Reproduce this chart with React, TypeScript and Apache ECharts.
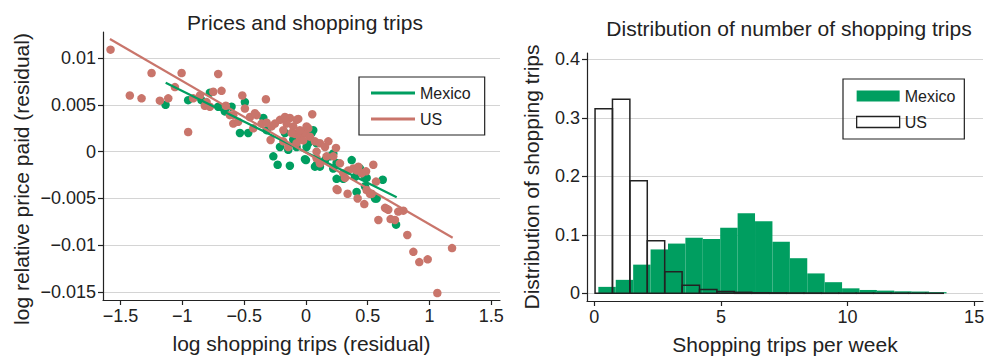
import React, { useEffect, useRef } from "react";
import * as echarts from "echarts";

// ---------- Data ----------
const usPoints: number[][] = [
  [-1.581, 0.0109], [-1.249, 0.0084], [-1.006, 0.0084], [-0.71, 0.0083], [-1.425, 0.006],
  [-1.33, 0.0057], [-1.182, 0.00545], [-1.114, 0.0057], [-1.06, 0.0069], [-0.953, 0.0021],
  [-0.912, 0.0057], [-0.858, 0.006], [-0.818, 0.0049], [-0.777, 0.0048], [-0.75, 0.0064],
  [-0.683, 0.0065], [-0.648, 0.0049], [-0.615, 0.0039], [-0.588, 0.003], [-0.548, 0.0032],
  [-0.515, 0.006], [-0.494, 0.0046], [-0.453, 0.0037], [-0.399, 0.0039], [-0.426, 0.0025],
  [-0.359, 0.003], [-0.324, 0.0056], [-0.318, 0.0031], [-0.278, 0.0027], [-0.286, 0.00125],
  [-0.251, 0.003], [-0.21, 0.0034], [-0.17, 0.0036], [-0.13, 0.0036], [-0.156, 0.003],
  [-0.103, 0.0027], [-0.062, 0.0035], [-0.089, 0.0019], [-0.049, 0.0015], [-0.008, 0.002],
  [0.019, 0.0025], [0.051, 0.004], [0.032, 0.0016], [0.073, 0.0011], [0.113, 0.0009],
  [0.181, 0.0011], [0.154, 0.0005], [0.243, 0.0004], [0.221, -0.0005], [0.113, -0.00125],
  [0.167, -0.0005], [0.275, -0.00125], [0.256, -0.0041], [0.337, -0.0045], [0.383, -0.0018],
  [0.343, -0.002], [0.424, -0.0016], [0.45, -0.0023], [0.545, -0.0014], [0.418, -0.005],
  [0.472, -0.0056], [0.491, -0.0041], [0.518, -0.0045], [0.567, -0.0032], [0.586, -0.0073],
  [0.64, -0.006], [0.666, -0.0062], [0.685, -0.0072], [0.72, -0.0073], [0.747, -0.0064],
  [0.788, -0.0063], [0.82, -0.0089], [0.869, -0.0107], [0.917, -0.0118], [0.985, -0.0115],
  [1.063, -0.0151], [1.182, -0.0103], [-0.183, 0.0011], [-0.143, 0.0005], [0.086, 0.0],
  [0.302, -0.0023], [0.486, -0.0021], [-0.804, 0.0053], [-0.588, 0.0039], [-0.413, 0.0041],
  [-0.183, 0.0023], [-0.116, 0.002], [-0.049, 0.0023], [0.005, 0.0027], [-0.022, 0.0012],
  [-0.076, 0.0009], [0.086, -0.0007], [0.316, -0.0028], [0.41, -0.002], [0.248, -0.004],
  [0.532, -0.0045], [0.653, -0.0061], [-0.076, 0.0034], [-0.17, 0.0037],
];

const mexicoPoints: number[][] = [
  [-1.136, 0.005], [-0.953, 0.0055], [-0.845, 0.0055], [-0.777, 0.0063], [-0.71, 0.0048],
  [-0.656, 0.0043], [-0.602, 0.0048], [-0.494, 0.0053], [-0.534, 0.002], [-0.467, 0.002],
  [-0.345, 0.0036], [-0.318, 0.0023], [-0.264, -0.0005], [-0.229, -0.0014], [-0.13, -0.0015],
  [-0.21, 0.0005], [-0.17, 0.002], [-0.143, 0.0002], [-0.076, 0.0005], [0.0, -0.0009],
  [0.046, 0.002], [0.073, -0.0016], [0.113, -0.0016], [0.194, -0.0005], [0.221, -0.0018],
  [0.248, -0.0029], [0.302, -0.0029], [0.37, -0.0009], [0.41, -0.0043], [0.437, -0.0018],
  [0.478, -0.0027], [0.572, -0.005], [0.621, -0.003], [0.729, -0.0078], [0.478, -0.0037],
  [0.019, 0.0009], [0.154, -0.0009], [-0.103, 0.0013], [0.397, -0.0027], [0.221, -0.0002],
  [0.248, -0.0012], [0.086, -0.0014], [-0.008, -0.0008], [0.491, -0.0028], [0.559, -0.005],
  [0.059, 0.0023], [0.086, 0.0009], [0.005, 0.0005],
];

// fitted lines (endpoints)
const usFit: number[][] = [[-1.586, 0.01204], [1.187, -0.00919]];
const mexicoFit: number[][] = [[-1.135, 0.00737], [0.734, -0.00488]];

// histogram (20 bins each)
const mexicoHist = [0.011, 0.023, 0.049, 0.075, 0.085, 0.095, 0.093, 0.112, 0.137, 0.123,
  0.088, 0.06, 0.034, 0.019, 0.0085, 0.0057, 0.0046, 0.0034, 0.003, 0.002];
const usHist = [0.3157, 0.3316, 0.1926, 0.09, 0.037, 0.0137, 0.0063, 0.003, 0.0017, 0.001,
  0.0008, 0.0006, 0.0005, 0.0004, 0.0003, 0.0003, 0.0002, 0.0002, 0.0001, 0.0001];
const mexicoBinStart = 0.16;
const usBinStart = 0.03;
const binWidth = 0.6875;

const leftXTicks = [-1.5, -1, -0.5, 0, 0.5, 1, 1.5];
const leftYTicks = [-0.015, -0.01, -0.005, 0, 0.005, 0.01];
const rightXTicks = [0, 5, 10, 15];
const rightYTicks = [0, 0.1, 0.2, 0.3, 0.4];

// ---------- Styles ----------
const GREEN = "#009e60";
const RED = "#c9756b";
const DARK = "#222";
const GRID = "#d4d4d4";
const FONT = "'Liberation Sans', Arial, Helvetica, sans-serif";

const fmt = (v: number) => String(v).replace("-", "\u2212");

function buildBins(start: number, heights: number[]) {
  return heights.map((h, i) => [start + i * binWidth, start + (i + 1) * binWidth, h]);
}

function axisCommon(ticks: number[]) {
  return {
    axisLine: { show: true, onZero: false, lineStyle: { color: DARK, width: 1.2 } },
    axisTick: { show: true, length: 5, customValues: ticks, lineStyle: { color: DARK, width: 1.2 } },
    axisLabel: {
      customValues: ticks,
      formatter: fmt,
      fontSize: 18,
      color: DARK,
      fontFamily: FONT,
      margin: 7,
    },
    nameTextStyle: { fontSize: 21, color: DARK, fontFamily: FONT },
    nameLocation: "middle" as const,
  };
}

export default function App() {
  const ref = useRef<HTMLDivElement>(null);
  useEffect(() => {
    if (!ref.current) return;
    const chart = echarts.init(ref.current, undefined, { renderer: "svg" });

    const histItem = (fill: string, stroke: string | null, lw: number) =>
      (params: any, api: any) => {
        const x0 = api.value(0);
        const x1 = api.value(1);
        const h = api.value(2);
        const p0 = api.coord([x0, h]);
        const p1 = api.coord([x1, 0]);
        return {
          type: "rect",
          shape: { x: p0[0], y: p0[1], width: p1[0] - p0[0], height: p1[1] - p0[1] },
          style: { fill, stroke: stroke || "none", lineWidth: lw },
        };
      };

    chart.setOption({
      animation: false,
      textStyle: { fontFamily: FONT },
      title: [
        {
          text: "Prices and shopping trips",
          left: 300,
          top: 7,
          textAlign: "center",
          textStyle: { fontSize: 21, fontWeight: "normal", color: DARK, fontFamily: FONT },
        },
        {
          text: "Distribution of number of shopping trips",
          left: 784,
          top: 13,
          textAlign: "center",
          textStyle: { fontSize: 21, fontWeight: "normal", color: DARK, fontFamily: FONT },
        },
      ],
      legend: [
        {
          left: 359,
          top: 77,
          orient: "vertical",
          itemWidth: 44,
          itemHeight: 3,
          itemGap: 10,
          padding: [8, 14, 8, 12],
          borderColor: DARK,
          borderWidth: 1.2,
          textStyle: { fontSize: 16, color: DARK, fontFamily: FONT },
          data: [
            { name: "Mexico", icon: "rect", itemStyle: { color: GREEN } },
            { name: "US", icon: "rect", itemStyle: { color: RED } },
          ],
          selectedMode: false,
        },
        {
          left: 843,
          top: 79,
          orient: "vertical",
          itemWidth: 43,
          itemHeight: 11,
          itemGap: 10,
          padding: [9, 9, 9, 13],
          borderColor: DARK,
          borderWidth: 1.2,
          textStyle: { fontSize: 16, color: DARK, fontFamily: FONT },
          formatter: (n: string) => n.trim(),
          data: [
            { name: "Mexico ", icon: "rect", itemStyle: { color: GREEN } },
            { name: "US ", icon: "rect", itemStyle: { color: "#fff", borderColor: DARK, borderWidth: 1.3 } },
          ],
          selectedMode: false,
        },
      ],
      grid: [
        { left: 103, top: 32, width: 397, height: 268, containLabel: false, outerBoundsMode: "none" },
        { left: 587, top: 53, width: 396, height: 248, containLabel: false, outerBoundsMode: "none" },
      ],
      xAxis: [
        {
          type: "value",
          gridIndex: 0,
          min: -1.642,
          max: 1.57,
          ...axisCommon(leftXTicks),
          splitLine: { show: false },
          name: "log shopping trips (residual)",
          nameGap: 33,
        },
        {
          type: "value",
          gridIndex: 1,
          min: -0.288,
          max: 15.35,
          ...axisCommon(rightXTicks),
          splitLine: { show: false },
          name: "Shopping trips per week",
          nameGap: 33,
        },
      ],
      yAxis: [
        {
          type: "value",
          gridIndex: 0,
          min: -0.015847,
          max: 0.012785,
          ...axisCommon(leftYTicks),
          splitLine: { show: true, lineStyle: { color: GRID, width: 1 } },
          name: "log relative price paid (residual)",
          nameGap: 71,
          nameTextStyle: { fontSize: 21, color: DARK, fontFamily: FONT, padding: [0, 26, 0, 0] },
        },
        {
          type: "value",
          gridIndex: 1,
          min: -0.01316,
          max: 0.4108,
          ...axisCommon(rightYTicks),
          splitLine: { show: true, lineStyle: { color: GRID, width: 1 } },
          name: "Distribution of shopping trips",
          nameGap: 45,
        },
      ],
      series: [
        {
          name: "Mexico points",
          type: "scatter",
          xAxisIndex: 0,
          yAxisIndex: 0,
          data: mexicoPoints,
          symbolSize: 8.5,
          itemStyle: { color: GREEN, opacity: 1 },
        },
        {
          name: "US points",
          type: "scatter",
          xAxisIndex: 0,
          yAxisIndex: 0,
          data: usPoints,
          symbolSize: 8.5,
          itemStyle: { color: RED, opacity: 1 },
        },
        {
          name: "Mexico",
          type: "line",
          xAxisIndex: 0,
          yAxisIndex: 0,
          data: mexicoFit,
          symbol: "none",
          lineStyle: { color: GREEN, width: 2.2 },
          itemStyle: { color: GREEN },
        },
        {
          name: "US",
          type: "line",
          xAxisIndex: 0,
          yAxisIndex: 0,
          data: usFit,
          symbol: "none",
          lineStyle: { color: RED, width: 2.2 },
          itemStyle: { color: RED },
        },
        {
          name: "Mexico ",
          type: "custom",
          xAxisIndex: 1,
          yAxisIndex: 1,
          data: buildBins(mexicoBinStart, mexicoHist),
          encode: { x: [0, 1], y: 2 },
          itemStyle: { color: GREEN },
          renderItem: histItem(GREEN, null, 0),
        },
        {
          name: "US ",
          type: "custom",
          xAxisIndex: 1,
          yAxisIndex: 1,
          data: buildBins(usBinStart, usHist),
          encode: { x: [0, 1], y: 2 },
          itemStyle: { color: "#fff" },
          renderItem: histItem("none", DARK, 1.5),
        },
      ],
    });
    return () => chart.dispose();
  }, []);

  return (
    <div
      ref={ref}
      style={{ position: "fixed", left: 0, top: 0, width: 984, height: 358, background: "#fff" }}
    />
  );
}
